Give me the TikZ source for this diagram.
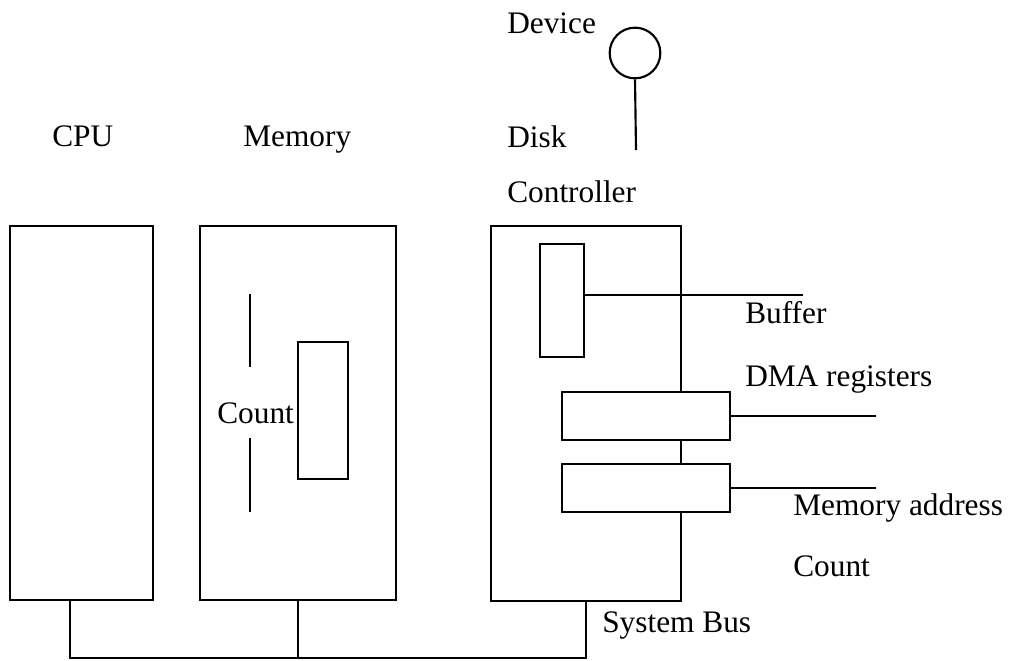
\documentclass[tikz,border=0pt]{standalone}
\usepackage{fontspec}
\setmainfont{Liberation Serif}
\usetikzlibrary{fit}
\begin{document}
\begin{tikzpicture}[x=0.75pt,y=-0.75pt,
  box/.style={draw, line width=1.6pt, inner sep=0pt, fill=white},
  lbl/.style={inner sep=0pt, anchor=west, font=\fontsize{23.5}{28}\selectfont},
  wire/.style={draw, line width=1.6pt}]
\useasboundingbox (0,0) rectangle (1016,660);

% main units
\node[box, fit={(10,226) (153,600)}] (cpu) {};
\node[box, fit={(200,226) (396,600)}] (mem) {};
\node[box, fit={(491,226) (681,601)}] (disk) {};

% memory internals
\node[box, fit={(298,342) (348,479)}] (memblk) {};
\node[lbl] (memcount) at (217,413) {Count};
\coordinate (ct1) at (250,294);
\coordinate (ct2) at (250,512);
\draw[wire] (ct1) -- (ct1 |- 0,367);
\draw[wire] (ct2) -- (ct2 |- 0,438);

% disk controller internals
\node[box, fit={(540,244) (584,357)}] (buf) {};
\node[box, fit={(562,392) (730,440)}] (reg1) {};
\node[box, fit={(562,464) (730,512)}] (reg2) {};
\coordinate (bufend) at (803,295);
\coordinate (reg1end) at (876,416);
\coordinate (reg2end) at (876,488);
\draw[wire] (buf.east |- bufend) -- (bufend);
\draw[wire] (reg1.east |- reg1end) -- (reg1end);
\draw[wire] (reg2.east |- reg2end) -- (reg2end);

% device
\node[draw, circle, line width=1.6pt, minimum size=38pt, inner sep=0pt] (dev) at (635,53) {};
\coordinate (devend) at (636,150);
\draw[wire] (dev.south) -- (devend);

% system bus
\coordinate (cpup) at (70,600);
\coordinate (memp) at (298,600);
\coordinate (diskp) at (586,601);
\coordinate (busl) at (70,658);
\draw[wire] (cpup) -- (busl) -- (busl -| diskp) -- (diskp);
\draw[wire] (memp) -- (memp |- busl);

% labels
\node[lbl] (tcpu) at (52,136) {CPU};
\node[lbl] (tmem) at (243,140) {Memory};
\node[lbl] (tdisk) at (507,137) {Disk};
\node[lbl] (tctrl) at (507,192) {Controller};
\node[lbl] (tdev) at (507,23) {Device};
\node[lbl] (tbuf) at (745,313) {Buffer};
\node[lbl] (tdma) at (745,380) {DMA registers};
\node[lbl] (taddr) at (793,508) {Memory address};
\node[lbl] (tcount) at (793,566) {Count};
\node[lbl] (tbus) at (602,625) {System Bus};
\end{tikzpicture}
\end{document}
